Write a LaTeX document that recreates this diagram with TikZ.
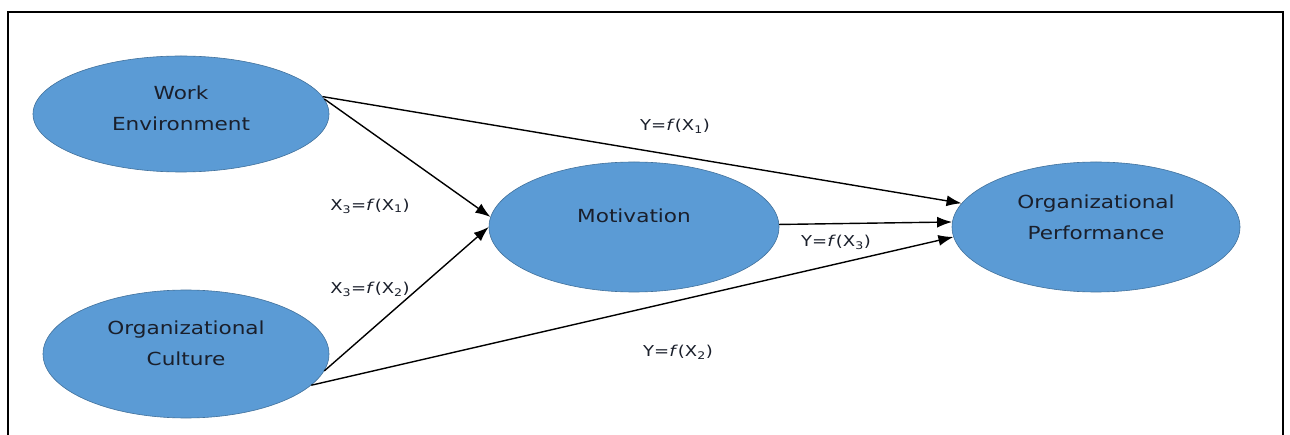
\documentclass[tikz,border=0pt]{standalone}
\usepackage{fontspec}
\setmainfont{DejaVu Sans}[FakeStretch=1.2]
\usetikzlibrary{shapes.geometric,arrows.meta}
\definecolor{ovalfill}{HTML}{5B9BD5}
\definecolor{ovaldraw}{HTML}{41719C}
\definecolor{textdark}{HTML}{1A1F2B}
\newcommand{\twolines}[2]{\begin{tabular}{@{}c@{}}#1\\#2\end{tabular}}
\newcommand{\lift}[2]{\raisebox{#1}[0pt][0pt]{#2}}
\tikzset{
  oval/.style={ellipse, fill=ovalfill, draw=ovaldraw, line width=0.6pt, inner sep=0pt,
    text=textdark, align=center, font=\fontsize{18}{31}\selectfont},
  conn/.style={draw=black, line width=1.4pt, -{Latex[length=15pt,width=11pt]}},
  lab/.style={text=textdark, font=\fontsize{15}{18}\selectfont, inner sep=0pt}
}
\begin{document}
\begin{tikzpicture}[x=1pt,y=-1pt]
\useasboundingbox (0,0) rectangle (1290,435);
\fill[white] (0,0) rectangle (1290,435);
\draw[line width=1.8pt] (8,445) -- (8,12) -- (1283,12) -- (1283,445);

\node[oval, minimum width=296pt, minimum height=116pt] (we) at (181,114)
  {\lift{1pt}{\twolines{Work}{Environment}}};
\node[oval, minimum width=286pt, minimum height=128pt] (oc) at (186,354)
  {\lift{5.5pt}{\twolines{Organizational}{Culture}}};
\node[oval, minimum width=290pt, minimum height=130pt] (mot) at (634,227)
  {\lift{4.5pt}{Motivation}};
\node[oval, minimum width=288pt, minimum height=130pt] (op) at (1096,227)
  {\lift{5pt}{\twolines{Organizational}{Performance}}};

\draw[conn] (we.7) -- (op.170);
\draw[conn] (we.6) -- (mot.176);
\draw[conn] (oc.-7.5) -- (mot.180);
\draw[conn] (oc.-14) -- (op.184);
\draw[conn] (mot.1.4) -- (op.178.9);

\node[lab] (l1) at (675,126) {Y=\textit{f}(X\textsubscript{1})};
\node[lab] (l2) at (370,206) {X\textsubscript{3}=\textit{f}(X\textsubscript{1})};
\node[lab] (l3) at (370,289) {X\textsubscript{3}=\textit{f}(X\textsubscript{2})};
\node[lab] (l4) at (836,242) {Y=\textit{f}(X\textsubscript{3})};
\node[lab] (l5) at (678,352) {Y=\textit{f}(X\textsubscript{2})};
\end{tikzpicture}
\end{document}
